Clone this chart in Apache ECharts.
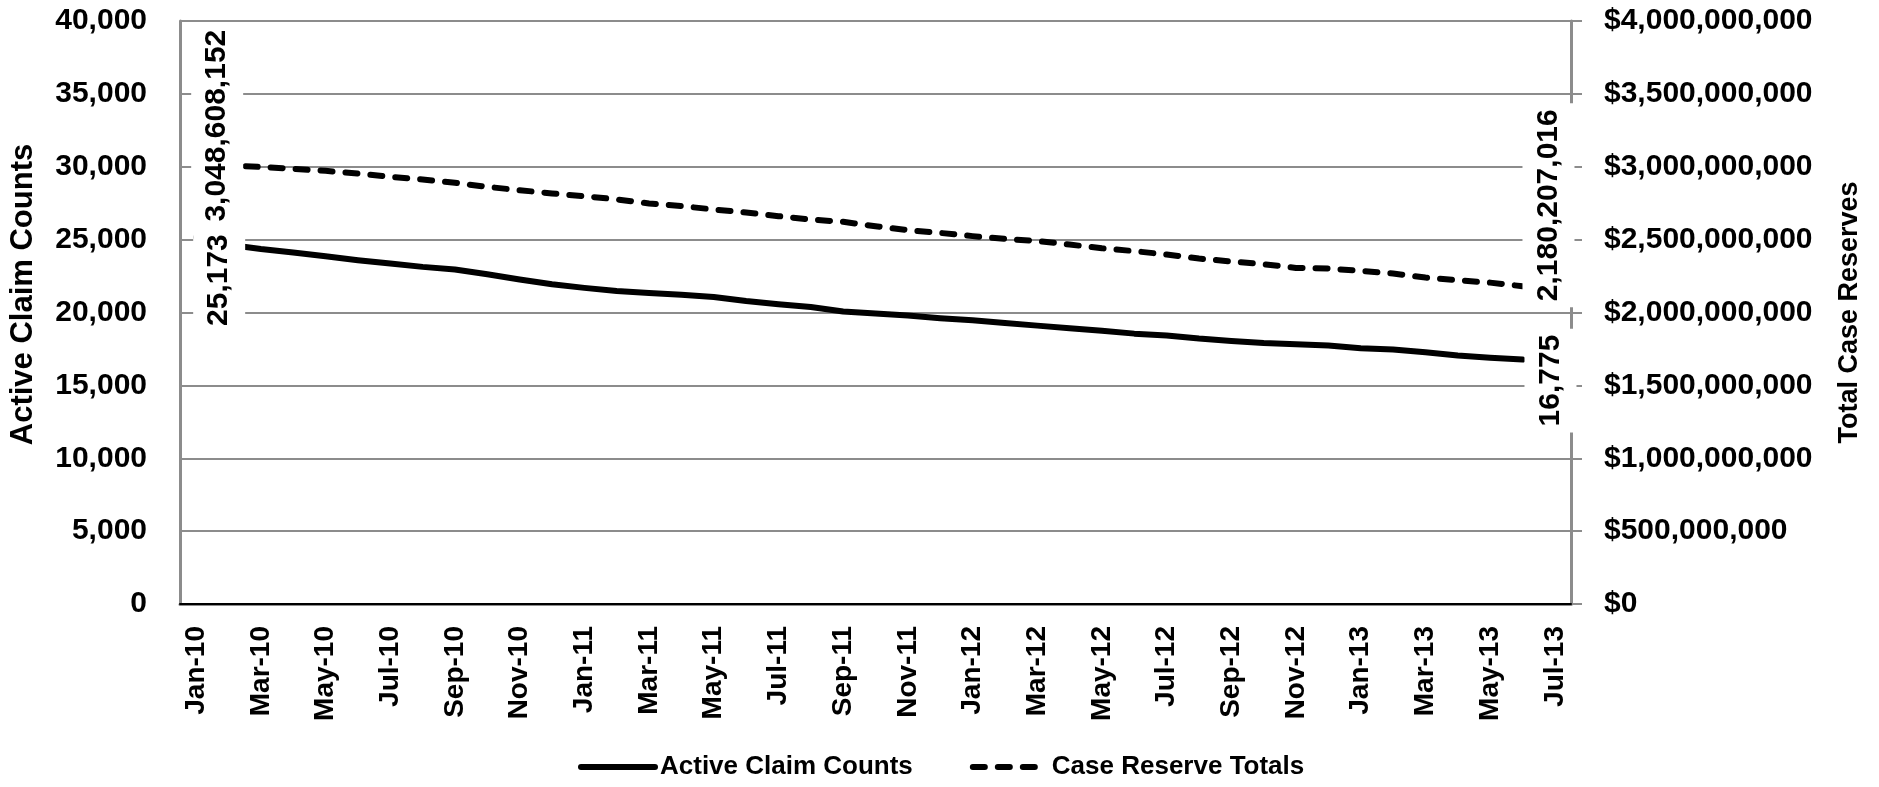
<!DOCTYPE html>
<html>
<head>
<meta charset="utf-8">
<script src="https://cdn.jsdelivr.net/npm/echarts@6/dist/echarts.min.js"></script>
<style>
html,body{margin:0;padding:0;background:#fff;}
#chart{width:1879px;height:787px;}
</style>
</head>
<body>
<div id="chart"></div>
<script>
// Months on the x axis (Jan-10 .. Jul-13)
var months = ['Jan-10','Feb-10','Mar-10','Apr-10','May-10','Jun-10','Jul-10','Aug-10','Sep-10','Oct-10','Nov-10','Dec-10',
  'Jan-11','Feb-11','Mar-11','Apr-11','May-11','Jun-11','Jul-11','Aug-11','Sep-11','Oct-11','Nov-11','Dec-11',
  'Jan-12','Feb-12','Mar-12','Apr-12','May-12','Jun-12','Jul-12','Aug-12','Sep-12','Oct-12','Nov-12','Dec-12',
  'Jan-13','Feb-13','Mar-13','Apr-13','May-13','Jun-13','Jul-13'];

// Active claim counts (Jan-10 .. Jun-13)
var claimCounts = [25173, 24650, 24360, 24120, 23860, 23590, 23360, 23130, 22950, 22630, 22260, 21940,
  21690, 21480, 21340, 21210, 21070, 20790, 20570, 20380, 20070, 19930, 19790, 19610,
  19470, 19280, 19100, 18920, 18740, 18550, 18420, 18210, 18050, 17910, 17820, 17730,
  17550, 17460, 17270, 17050, 16900, 16775];

// Case reserve totals (Jan-10 .. Jun-13)
var reserveTotals = [3048608152, 3010000000, 2999000000, 2986000000, 2972000000, 2954000000, 2931000000, 2913000000, 2890000000, 2862000000, 2839000000, 2817000000,
  2798000000, 2776000000, 2748000000, 2730000000, 2707000000, 2686000000, 2661000000, 2638000000, 2622000000, 2592000000, 2565000000, 2546000000,
  2524000000, 2505000000, 2491000000, 2466000000, 2441000000, 2421000000, 2398000000, 2370000000, 2350000000, 2331000000, 2306000000, 2302000000,
  2285000000, 2267000000, 2240000000, 2221000000, 2205000000, 2180207016];

var seriesNames = ['Active Claim Counts', 'Case Reserve Totals'];
var axisTitles = ['Active Claim Counts', 'Total Case Reserves'];

var FONT = "'Liberation Sans', Arial, sans-serif";
function fmt(v){ return Math.round(v).toString().replace(/\B(?=(\d{3})+(?!\d))/g, ','); }

function endLabel(offset){
  return {
    show: true, position: 'inside', rotate: 90, offset: offset,
    backgroundColor: '#fff', padding: [8, 6], lineHeight: 36,
    fontFamily: FONT, fontWeight: 'bold', fontSize: 30, color: '#000',
    formatter: function(p){ return fmt(p.value); }
  };
}
function buildData(arr, firstOff, lastOff){
  return arr.map(function(v, i){
    if (i === 0) return {value: v, symbol: 'circle', symbolSize: 1, label: endLabel(firstOff)};
    if (i === arr.length - 1) return {value: v, symbol: 'circle', symbolSize: 1, label: endLabel(lastOff)};
    return v;
  });
}

var gridColor = '#8c8c8c';
var chart = echarts.init(document.getElementById('chart'), null, {renderer: 'canvas'});
chart.setOption({
  animation: false,
  backgroundColor: '#fff',
  grid: {left: 180, right: 308, top: 21, bottom: 183, containLabel: false},
  legend: {
    data: seriesNames,
    left: 573, top: 749,
    itemWidth: 74, itemHeight: 14, itemGap: 57,
    lineStyle: {width: 6, cap: 'round'},
    itemStyle: {color: 'rgba(0,0,0,0)', borderWidth: 0, opacity: 0},
    textStyle: {fontFamily: FONT, fontWeight: 'bold', fontSize: 26, color: '#000'}
  },
  xAxis: [{
    type: 'category', data: months, boundaryGap: true,
    axisLine: {lineStyle: {color: gridColor, width: 3}},
    axisTick: {show: false},
    splitLine: {show: false},
    axisLabel: {interval: 1, rotate: 90, margin: 22, fontFamily: FONT, fontWeight: 'bold', fontSize: 28, color: '#000'}
  }, {
    type: 'category', data: months, position: 'top', boundaryGap: true, z: 10,
    axisLine: {lineStyle: {color: '#000', width: 2}},
    axisTick: {show: false}, axisLabel: {show: false}, splitLine: {show: false}
  }],
  yAxis: [{
    type: 'value', min: 0, max: 40000, interval: 5000, position: 'left',
    name: axisTitles[0], nameLocation: 'middle', nameRotate: 90, nameGap: 141,
    nameTextStyle: {fontFamily: FONT, fontWeight: 'bold', fontSize: 31, color: '#000', padding: [0, 0, 0, 36]},
    axisLine: {show: true, lineStyle: {color: gridColor, width: 3}},
    axisTick: {show: false},
    splitLine: {show: true, lineStyle: {color: gridColor, width: 2}},
    axisLabel: {margin: 33, formatter: function(v){ return fmt(v); }, fontFamily: FONT, fontWeight: 'bold', fontSize: 30, color: '#000'}
  }, {
    type: 'value', min: 0, max: 4000000000, interval: 500000000, position: 'right',
    name: axisTitles[1], nameLocation: 'middle', nameRotate: 90, nameGap: 265,
    nameTextStyle: {fontFamily: FONT, fontWeight: 'bold', fontSize: 27, color: '#000'},
    axisLine: {show: true, lineStyle: {color: gridColor, width: 3}},
    axisTick: {show: true, inside: false, length: 11, lineStyle: {color: gridColor, width: 2}},
    splitLine: {show: false},
    axisLabel: {margin: 33, formatter: function(v){ return '$' + fmt(v); }, fontFamily: FONT, fontWeight: 'bold', fontSize: 30, color: '#000'}
  }],
  series: [{
    name: seriesNames[0], type: 'line', xAxisIndex: 0, yAxisIndex: 0,
    symbol: 'none', showSymbol: true,
    lineStyle: {color: '#000', width: 6, cap: 'round', join: 'round'},
    itemStyle: {color: '#000'},
    data: buildData(claimCounts, [-43, 23], [-21, 28]),
    z: 3
  }, {
    name: seriesNames[1], type: 'line', xAxisIndex: 0, yAxisIndex: 1,
    symbol: 'none', showSymbol: true,
    lineStyle: {color: '#000', width: 6, type: [12, 13], cap: 'round', join: 'round'},
    itemStyle: {color: '#000'},
    data: buildData(reserveTotals, [34, 21], [81, 26]),
    z: 3
  }]
});
</script>
</body>
</html>
